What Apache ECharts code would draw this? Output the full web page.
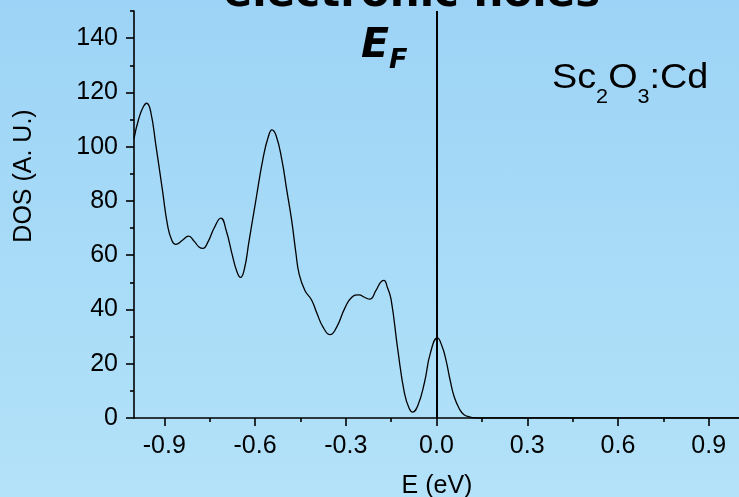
<!DOCTYPE html>
<html>
<head>
<meta charset="utf-8">
<script src="https://cdn.jsdelivr.net/npm/echarts@6/dist/echarts.min.js"></script>
<style>
  html, body { margin: 0; padding: 0; }
  #chart {
    width: 739px; height: 497px;
    background: linear-gradient(to bottom, #9dd3f6 0%, #a7dbf7 50%, #b3e2f9 100%);
  }
</style>
</head>
<body>
<div id="chart"></div>
<script>
// Energy grid (eV) and density of states (arbitrary units)
const energy = [
  -1.000, -0.985, -0.970, -0.958, -0.945, -0.927, -0.906, -0.889, -0.875, -0.862,
  -0.840, -0.820, -0.800, -0.785, -0.772, -0.755, -0.735, -0.713, -0.695, -0.675,
  -0.660, -0.648, -0.635, -0.620, -0.599, -0.572, -0.555, -0.544, -0.530, -0.511,
  -0.495, -0.479, -0.465, -0.454, -0.435, -0.413, -0.395, -0.375, -0.352, -0.330,
  -0.303, -0.280, -0.256, -0.238, -0.221, -0.200, -0.185, -0.174, -0.162, -0.150,
  -0.128, -0.106, -0.090, -0.079, -0.062, -0.040, -0.020, 0.003, 0.018, 0.031,
  0.045, 0.058, 0.075, 0.091, 0.110, 0.124, 0.150, 0.300, 0.500, 0.750, 1.000
];
const dos = [
  103, 110, 114.5, 116, 113, 100, 84, 71, 65.5, 64,
  65.5, 67, 65, 63, 62.5, 65, 70, 73.7, 69, 60,
  54, 51.8, 55, 65, 79, 96.5, 104, 106.2, 104, 95,
  84, 73, 61, 53, 47, 43.5, 38.5, 33.5, 30.7, 33.5,
  40.5, 44.5, 45.4, 44.5, 43.8, 47, 50, 50.7, 48, 43.6,
  25.2, 9.2, 3.5, 2.2, 4.5, 13, 24, 29.5, 26.5, 21.5,
  14, 8, 3.5, 1.2, 0.4, 0.1, 0, 0, 0, 0, 0
];

// Axis ticks
const xMajorTicks = [-0.9, -0.6, -0.3, 0.0, 0.3, 0.6, 0.9];
const xMinorTicks = [-0.75, -0.45, -0.15, 0.15, 0.45, 0.75];
const yMajorTicks = [0, 20, 40, 60, 80, 100, 120, 140];
const yMinorTicks = [10, 30, 50, 70, 90, 110, 130, 150];
const fermiLevel = 0;

const FONT = '"Liberation Sans", Arial, sans-serif';
const BOLD_FONT = '"DejaVu Sans", Verdana, sans-serif';
const AXIS_COLOR = '#000';

// Width of a text run, used to lay out labels with subscripts
const measureCtx = document.createElement('canvas').getContext('2d');
function textWidth(text, size, family, weight, style) {
  measureCtx.font = `${style || 'normal'} ${weight || 'normal'} ${size}px ${family}`;
  return measureCtx.measureText(text).width;
}

// Builds a group of text runs; sub runs sit lower and smaller.
// Each run is { t, sub }; baseline positions are relative to the group origin.
function subscriptLabel(runs, opts) {
  const children = [];
  let x = 0;
  runs.forEach(r => {
    const size = r.sub ? opts.subSize : opts.size;
    const baseline = r.sub ? opts.subShift : 0;
    children.push({
      type: 'text', x: x, y: baseline - opts.midRatio * size, silent: true,
      style: {
        text: r.t, textAlign: 'left', textVerticalAlign: 'middle',
        fontFamily: opts.family, fontSize: size, fontWeight: opts.weight || 'normal',
        fontStyle: opts.style || 'normal', fill: '#000'
      }
    });
    x += textWidth(r.t, size, opts.family, opts.weight, opts.style);
  });
  return { type: 'group', x: opts.x, y: opts.y, scaleX: opts.scaleX || 1, silent: true, children };
}

const chart = echarts.init(document.getElementById('chart'), null, { renderer: 'canvas' });

const gridRect = { left: 134, top: 11, width: 609, height: 407 };

chart.setOption({
  backgroundColor: 'transparent',
  animation: false,
  grid: gridRect,
  xAxis: [
    {
      type: 'value', min: -1, max: 1,
      axisLine: { show: true, onZero: false, lineStyle: { color: AXIS_COLOR, width: 1.6 } },
      axisTick: { show: true, customValues: xMajorTicks, length: 8, inside: false,
                  lineStyle: { color: AXIS_COLOR, width: 1.6 } },
      axisLabel: { show: true, customValues: xMajorTicks, margin: 16,
                   formatter: v => v.toFixed(1),
                   fontFamily: FONT, fontSize: 25, color: '#000' },
      splitLine: { show: false }
    },
    {
      type: 'value', min: -1, max: 1, position: 'bottom', offset: 0,
      axisLine: { show: false, onZero: false },
      axisTick: { show: true, customValues: xMinorTicks, length: 4,
                  lineStyle: { color: AXIS_COLOR, width: 1.6 } },
      axisLabel: { show: false },
      splitLine: { show: false }
    }
  ],
  yAxis: [
    {
      type: 'value', min: 0, max: 150,
      axisLine: { show: true, onZero: false, lineStyle: { color: AXIS_COLOR, width: 1.6 } },
      axisTick: { show: true, customValues: yMajorTicks, length: 8,
                  lineStyle: { color: AXIS_COLOR, width: 1.6 } },
      axisLabel: { show: true, customValues: yMajorTicks, margin: 16,
                   fontFamily: FONT, fontSize: 25, color: '#000' },
      splitLine: { show: false }
    },
    {
      type: 'value', min: 0, max: 150, position: 'left', offset: 0,
      axisLine: { show: false, onZero: false },
      axisTick: { show: true, customValues: yMinorTicks, length: 4,
                  lineStyle: { color: AXIS_COLOR, width: 1.6 } },
      axisLabel: { show: false },
      splitLine: { show: false }
    }
  ],
  series: [
    {
      type: 'line',
      xAxisIndex: 0, yAxisIndex: 0,
      data: energy.map((e, i) => [e, dos[i]]),
      smooth: 0.5,
      showSymbol: false,
      symbol: 'none',
      lineStyle: { color: '#000', width: 1.3 },
      clip: true,
      markLine: {
        silent: true,
        symbol: 'none',
        label: { show: false },
        lineStyle: { color: '#000', width: 2, type: 'solid' },
        data: [{ xAxis: fermiLevel }]
      }
    }
  ],
  graphic: [
    {
      type: 'text', x: 412, y: -5, silent: true,
      style: { text: 'electronic holes', textAlign: 'center', textVerticalAlign: 'middle',
               fontFamily: BOLD_FONT, fontWeight: 'bold', fontSize: 42, fill: '#000' }
    },
    // Fermi level marker: E with subscript F
    subscriptLabel([{ t: 'E' }, { t: 'F', sub: true }], {
      x: 361, y: 61, size: 41, subSize: 27, subShift: 9, midRatio: 0.346,
      family: BOLD_FONT, weight: 'bold', style: 'italic'
    }),
    // Compound label
    subscriptLabel([{ t: 'Sc' }, { t: '2', sub: true }, { t: 'O' }, { t: '3', sub: true }, { t: ':Cd' }], {
      x: 552, y: 90, size: 35, subSize: 20, subShift: 14, midRatio: 0.3465,
      family: FONT, scaleX: 1.08
    }),
    {
      type: 'text', x: 24, y: 176, rotation: Math.PI / 2, silent: true,
      style: { text: 'DOS (A. U.)', textAlign: 'center', textVerticalAlign: 'middle',
               fontFamily: FONT, fontSize: 25, fill: '#000' }
    },
    {
      type: 'text', x: 437, y: 486, silent: true,
      style: { text: 'E (eV)', textAlign: 'center', textVerticalAlign: 'middle',
               fontFamily: FONT, fontSize: 25, fill: '#000' }
    }
  ]
});
</script>
</body>
</html>
